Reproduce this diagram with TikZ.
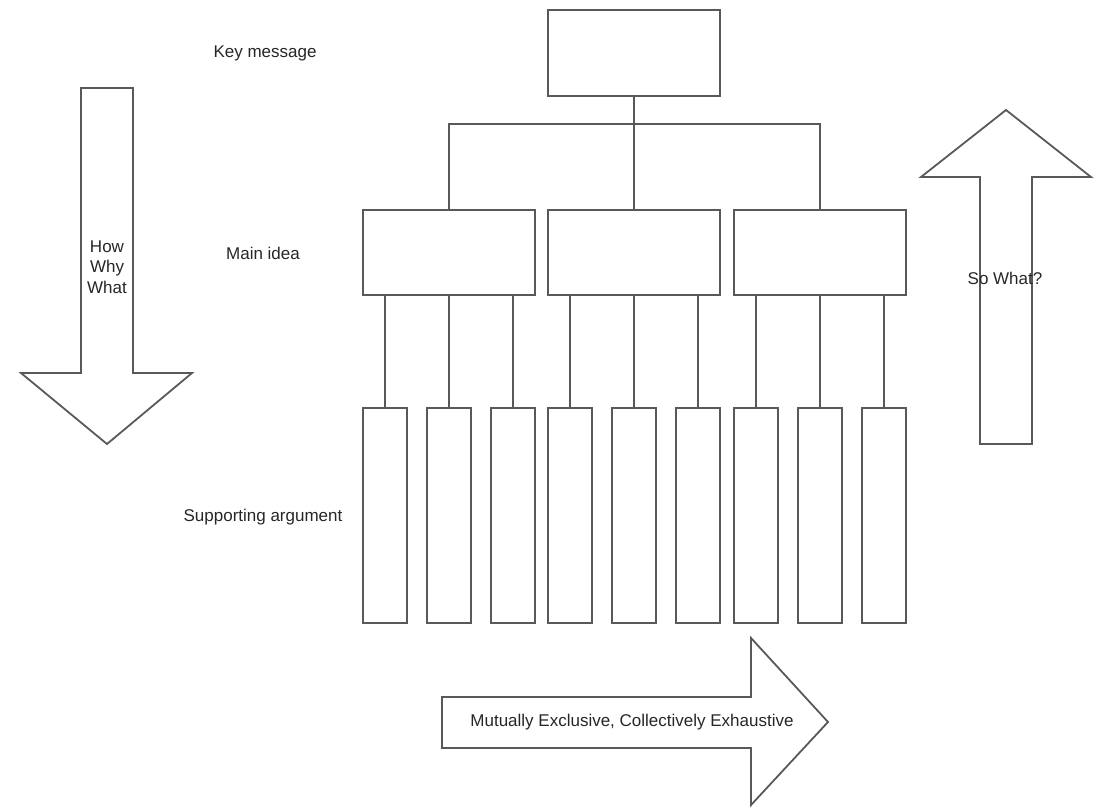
\documentclass[tikz,border=0pt]{standalone}
\usepackage{fontspec}
\setmainfont{Liberation Sans}
\tikzset{
	box/.style={draw=black!65, line width=1.8pt, minimum width=172pt, minimum height=86pt, inner sep=0pt},
	subbox/.style={draw=black!65, line width=1.8pt, minimum width=44pt, minimum height=215pt, inner sep=0pt},
	link/.style={draw=black!65, line width=1.8pt},
	fatarrow/.style={draw=black!65, line width=1.8pt, line join=miter},
	lbl/.style={font=\fontsize{17}{20.5}\selectfont, text=black!85, inner sep=0pt, align=center}
}
\begin{document}
\begin{tikzpicture}[x=1pt,y=-1pt]
	\useasboundingbox (0,0) rectangle (1098,807);

	% Pyramide
	\node[box] (key) at (634,53) {};
	\foreach \x [count=\i] in {449,634,820} {
		\node[box, minimum height=85pt] (m\i) at (\x,252.5) {};
		\foreach \d [count=\j] in {-64,0,64} {
			\node[subbox] (s\i\j) at (\x+\d,515.5) {};
			\draw[link] (m\i.south -| s\i\j.north) -- (s\i\j.north);
		}
	}
	\coordinate (bus) at (634,124);
	\draw[link] (key.south) -- (m2.north);
	\draw[link] (m1.north) |- (bus) -| (m3.north);

	% Ebenen
	\node[lbl] (keylbl) at (265,53) {Key message};
	\node[lbl] (mainlbl) at (263,253) {Main idea};
	\node[lbl] (suplbl) at (263,517) {Supporting argument};

	% Pfeile
	\draw[fatarrow] (81,88) -- (133,88) -- (133,373) -- (192,373) -- (107,444) -- (21,373) -- (81,373) -- cycle;
	\node[lbl] (how) at (107,267) {How\\Why\\What};

	\draw[fatarrow] (980,444) -- (980,177) -- (921,177) -- (1006,110) -- (1091,177) -- (1032,177) -- (1032,444) -- cycle;
	\node[lbl] (sowhat) at (1005,278) {So What?};

	\draw[fatarrow] (442,697) -- (751,697) -- (751,638) -- (828,722) -- (751,805) -- (751,748) -- (442,748) -- cycle;
	\node[lbl] (mece) at (632,722) {Mutually Exclusive, Collectively Exhaustive};
\end{tikzpicture}
\end{document}
